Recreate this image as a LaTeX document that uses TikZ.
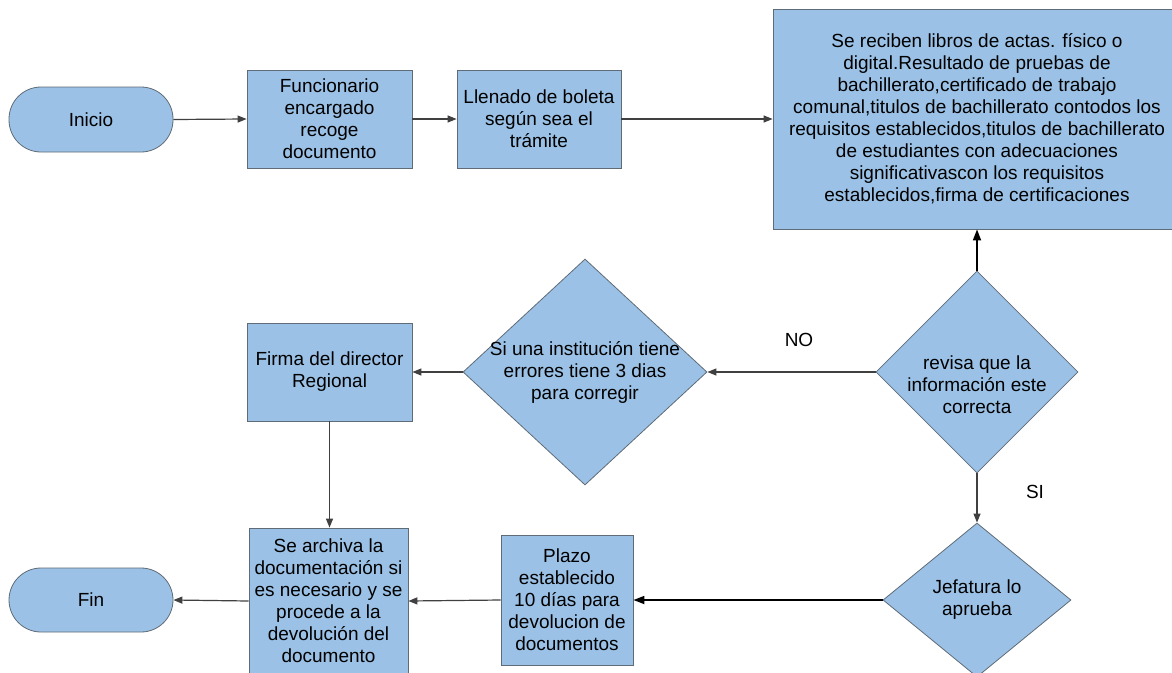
\documentclass[tikz,border=0pt]{standalone}
\usepackage{fontspec}
\setmainfont{Liberation Sans}
\usetikzlibrary{shapes.geometric,arrows.meta}
\definecolor{boxfill}{RGB}{155,194,230}
\definecolor{boxline}{RGB}{95,107,119}
\definecolor{arrowc}{RGB}{64,64,64}
\begin{document}
\begin{tikzpicture}[x=1pt,y=-1pt,
  font=\fontsize{19}{22}\selectfont,
  proc/.style={draw=boxline, fill=boxfill, line width=0.8pt, rectangle, inner sep=0pt, align=center},
  term/.style={draw=boxline, fill=boxfill, line width=0.8pt, rectangle, rounded corners=32pt, inner sep=0pt, align=center},
  dia/.style={draw=boxline, fill=boxfill, line width=0.8pt, diamond, inner sep=0pt},
  txt/.style={align=center, inner sep=0pt},
  arr/.style={draw=arrowc, line width=1.2pt, -{Triangle[length=9pt,width=7pt]}},
  arrb/.style={draw=black, line width=1.7pt, -{Triangle[length=11pt,width=8pt]}}]
\clip (0,0) rectangle (1172,672);
\fill[white] (0,0) rectangle (1172,672);
\node[term, minimum width=164pt, minimum height=65pt] (inicio) at (91,119.5) {Inicio};
\node[proc, minimum width=165pt, minimum height=98pt] (func) at (329.5,119) {Funcionario\\encargado\\recoge\\documento};
\node[proc, minimum width=164pt, minimum height=98pt] (llen) at (539,119) {Llenado de boleta\\según sea el\\trámite};
\node[proc, minimum width=408pt, minimum height=220pt] (big) at (977,119) {Se reciben libros de actas. físico o\\digital.Resultado de pruebas de\\bachillerato,certificado de trabajo\\comunal,titulos de bachillerato contodos los\\requisitos establecidos,titulos de bachillerato\\de estudiantes con adecuaciones\\significativascon los requisitos\\establecidos,firma de certificaciones};
\node[dia, minimum width=202pt, minimum height=202pt] (rev) at (977,372) {};
\node[txt] (revt) at (977,385) {revisa que la\\información este\\correcta};
\node[dia, minimum width=244pt, minimum height=226pt] (d2) at (585,372) {};
\node[txt] (d2t) at (585,372) {Si una institución tiene\\errores tiene 3 dias\\para corregir};
\node[proc, minimum width=165pt, minimum height=98pt] (firma) at (329.5,372) {Firma del director\\Regional};
\node[proc, minimum width=159pt, minimum height=146pt] (arch) at (328.5,601) {Se archiva la\\documentación si\\es necesario y se\\procede a la\\devolución del\\documento};
\node[proc, minimum width=132pt, minimum height=130pt] (plazo) at (567,600) {Plazo\\establecido\\10 días para\\devolucion de\\documentos};
\node[dia, minimum width=188pt, minimum height=154pt] (jef) at (977,600) {};
\node[txt] (jeft) at (977,600) {Jefatura lo\\aprueba};
\node[term, minimum width=164pt, minimum height=64pt] (fin) at (91,600) {Fin};
\node[txt] (no) at (799,340) {NO};
\node[txt] (si) at (1035,492) {SI};
\draw[arr] (inicio.east) -- (func.west);
\draw[arr] (func.east) -- (llen.west);
\draw[arr] (llen.east) -- (llen.east -| big.west);
\draw[arrb] (rev.north) -- (big.south);
\draw[arr] (rev.west) -- (d2.east);
\draw[arr] (d2.west) -- (firma.east);
\draw[arr] (firma.south) -- (firma.south |- arch.north);
\draw[arr] (rev.south) -- (jef.north);
\draw[arrb] (jef.west) -- (plazo.east);
\draw[arr] (plazo.west) -- (arch.east);
\draw[arr] (arch.west) -- (fin.east);
\end{tikzpicture}
\end{document}
